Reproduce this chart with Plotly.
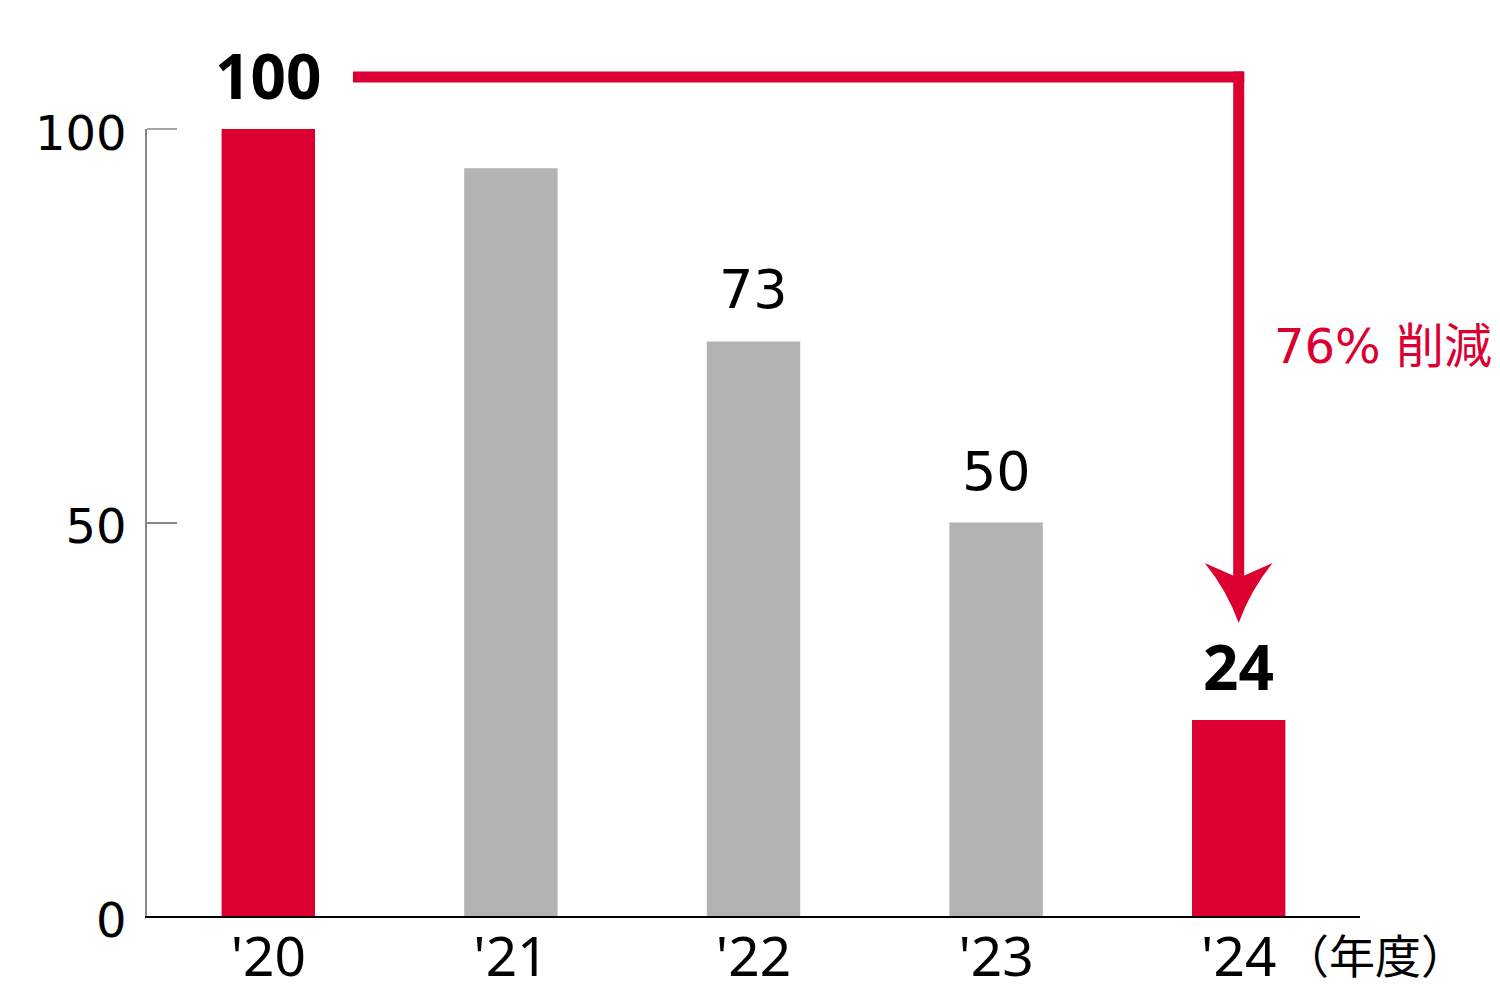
import plotly.graph_objects as go

categories = ["'20", "'21", "'22", "'23", "'24"]
values = [100, 95, 73, 50, 24.9]
labels = ["100", "", "73", "50", "24"]
label_bold = [True, False, False, False, True]
highlight = [True, False, False, False, True]
y_ticks = [0, 50, 100]
y_tick_text = ["0", "50", "100"]
reduction_text = "76% 削減"
unit_text = "（年度）"

RED = "#DC0032"
GRAY = "#B3B3B3"
FONT = "Noto Sans, Noto Sans CJK JP, sans-serif"
FONT_WIDE = "DejaVu Sans, Noto Sans CJK JP, sans-serif"

W, H = 1500, 1000
L, R, T, B = 147, 140, 129, 84
PW, PH = W - L - R, H - T - B


def px(x):
    return (x - L) / PW


def py(y):
    return (H - B - y) / PH


fig = go.Figure()
fig.add_trace(go.Bar(
    x=categories, y=values,
    marker=dict(color=[RED if h else GRAY for h in highlight], line=dict(width=0)),
    width=0.385, hoverinfo="skip",
))

annotations = []
for c, v, t, b in zip(categories, values, labels, label_bold):
    if not t:
        continue
    if b:
        annotations.append(dict(
            x=c, y=v, xref="x", yref="y", text=f"<b>{t}</b>",
            showarrow=False, yanchor="bottom", yshift=10,
            font=dict(size=62, color="black", family=FONT),
        ))
    else:
        annotations.append(dict(
            x=c, y=v, xref="x", yref="y", text=t,
            showarrow=False, yanchor="bottom", yshift=18,
            font=dict(size=54, color="black", family=FONT_WIDE),
        ))

annotations.append(dict(
    x=px(1272), y=py(346), xref="paper", yref="paper", text=reduction_text,
    showarrow=False, xanchor="left", yanchor="middle",
    font=dict(size=48, color=RED, family=FONT_WIDE),
))
annotations.append(dict(
    x=px(1281), y=py(955), xref="paper", yref="paper", text=unit_text,
    showarrow=False, xanchor="left", yanchor="middle",
    font=dict(size=46, color="black", family=FONT),
))

# arrow geometry (pixel space -> paper)
ax_center = (len(categories) - 1 + 0.5) / len(categories)
ax_px = L + ax_center * PW
half = 5.5
top_y = 77
shapes = [
    dict(type="rect", xref="paper", yref="paper",
         x0=px(353), x1=px(ax_px + half), y0=py(top_y - half), y1=py(top_y + half),
         fillcolor=RED, line=dict(width=0)),
    dict(type="rect", xref="paper", yref="paper",
         x0=px(ax_px - half), x1=px(ax_px + half), y0=py(top_y - half), y1=py(585),
         fillcolor=RED, line=dict(width=0)),
    # tick mark at the top of the y axis
    dict(type="line", xref="paper", yref="paper",
         x0=0, x1=30 / PW, y0=1, y1=1,
         line=dict(color="#888888", width=1.5)),
]
pts = {
    "lb": (ax_px - 34, 563), "n": (ax_px, 578), "rb": (ax_px + 34, 563),
    "c1": (ax_px + 12, 590), "tip": (ax_px, 623), "c2": (ax_px - 12, 590),
}
P = {k: (px(x), py(y)) for k, (x, y) in pts.items()}
path = (f"M {P['lb'][0]},{P['lb'][1]} L {P['n'][0]},{P['n'][1]} L {P['rb'][0]},{P['rb'][1]} "
        f"Q {P['c1'][0]},{P['c1'][1]} {P['tip'][0]},{P['tip'][1]} "
        f"Q {P['c2'][0]},{P['c2'][1]} {P['lb'][0]},{P['lb'][1]} Z")
shapes.append(dict(type="path", xref="paper", yref="paper", path=path,
                   fillcolor=RED, line=dict(width=0)))

fig.update_layout(
    width=W, height=H,
    margin=dict(l=L, r=R, t=T, b=B, autoexpand=False),
    paper_bgcolor="white", plot_bgcolor="white",
    showlegend=False,
    font=dict(family=FONT, color="black"),
    annotations=annotations, shapes=shapes,
    xaxis=dict(
        type="category", range=[-0.5, len(categories) - 0.5],
        showline=True, linecolor="black", linewidth=1.5,
        ticks="", showgrid=False, zeroline=False, automargin=False,
        ticklabelstandoff=-8,
        tickfont=dict(size=55, color="black", family=FONT), fixedrange=True,
    ),
    yaxis=dict(
        range=[0, 100], tickvals=y_ticks, ticktext=y_tick_text,
        showline=True, linecolor="#888888", linewidth=1.5,
        ticks="inside", ticklen=30, tickwidth=1.5, tickcolor="#888888",
        showgrid=False, zeroline=False, ticklabelstandoff=9, ticklabelshift=4,
        automargin=False,
        tickfont=dict(size=48, color="black", family=FONT_WIDE), fixedrange=True,
    ),
)

fig.write_html("out.html", config={"displayModeBar": False},
               post_script="document.body.style.margin='0';")
